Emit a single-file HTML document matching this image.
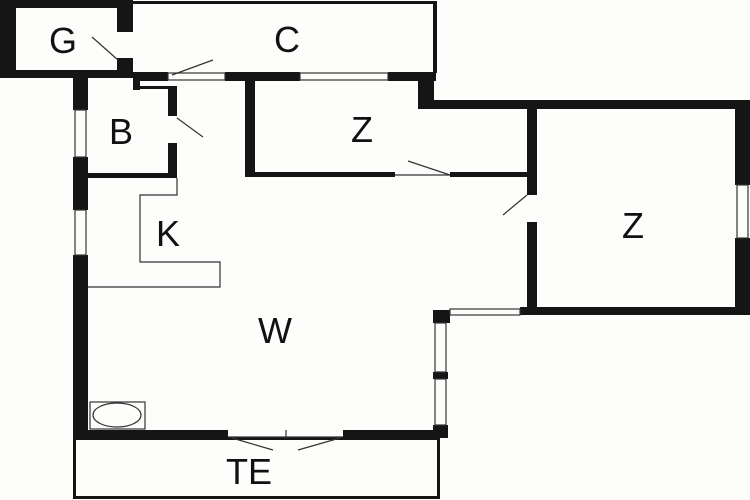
<!DOCTYPE html>
<html><head><style>
html,body{margin:0;padding:0;background:#fdfdfb}
svg{display:block}
text{font-family:"Liberation Sans",sans-serif;font-size:36px;fill:#111;text-anchor:middle}
</style></head><body>
<svg width="750" height="500" viewBox="0 0 750 500">
<rect width="750" height="500" fill="#fdfdfb"/>
<g fill="#151515">
<rect x="0" y="0" width="133" height="8"/>
<rect x="0" y="0" width="16" height="78"/>
<rect x="0" y="70" width="133" height="8"/>
<rect x="117" y="0" width="16" height="32"/>
<rect x="117" y="58" width="16" height="20"/>
<rect x="133" y="1" width="303" height="3"/>
<rect x="433" y="1" width="4" height="72"/>
<rect x="133" y="72" width="35" height="9"/>
<rect x="225" y="72" width="75" height="9"/>
<rect x="388" y="72" width="48" height="9"/>
<rect x="418" y="72" width="16" height="36"/>
<rect x="418" y="100" width="332" height="9"/>
<rect x="73" y="78" width="15" height="32"/>
<rect x="73" y="157" width="15" height="53"/>
<rect x="73" y="255" width="15" height="182"/>
<rect x="133" y="80" width="7" height="10"/>
<rect x="133" y="86" width="44" height="3"/>
<rect x="168" y="86" width="9" height="30"/>
<rect x="168" y="143" width="9" height="35"/>
<rect x="88" y="173" width="89" height="5"/>
<rect x="245" y="80" width="10" height="97"/>
<rect x="245" y="172" width="150" height="5"/>
<rect x="450" y="172" width="80" height="5"/>
<rect x="527" y="100" width="10" height="95"/>
<rect x="527" y="222" width="10" height="93"/>
<rect x="735" y="100" width="15" height="85"/>
<rect x="735" y="238" width="15" height="77"/>
<rect x="520" y="307" width="230" height="8"/>
<rect x="433" y="310" width="17" height="13"/>
<rect x="433" y="372" width="15" height="7"/>
<rect x="433" y="425" width="15" height="12"/>
<rect x="73" y="430" width="155" height="8"/>
<rect x="343" y="430" width="105" height="8"/>
<rect x="73" y="437" width="367" height="3"/>
<rect x="73" y="437" width="3" height="62"/>
<rect x="437" y="437" width="3" height="62"/>
<rect x="73" y="496" width="367" height="3"/>
</g>
<g fill="none" stroke="#333" stroke-width="1.2">
<rect x="168" y="73" width="57" height="7"/>
<rect x="300" y="73" width="88" height="7"/>
<rect x="75" y="110" width="11" height="47"/>
<rect x="75" y="210" width="11" height="45"/>
<rect x="737" y="185" width="11" height="53"/>
<rect x="450" y="309" width="70" height="6"/>
<rect x="435" y="323" width="11" height="49"/>
<rect x="435" y="379" width="11" height="46"/>
<line x1="395" y1="175" x2="450" y2="175"/>
<line x1="228" y1="437" x2="343" y2="437"/>
<line x1="92" y1="37" x2="118" y2="60"/>
<line x1="172" y1="75" x2="213" y2="60"/>
<line x1="177" y1="118" x2="203" y2="137"/>
<line x1="408" y1="161" x2="450" y2="175"/>
<line x1="503" y1="215" x2="527" y2="195"/>
<line x1="232" y1="438" x2="273" y2="450"/>
<line x1="298" y1="450" x2="340" y2="438"/>
<line x1="286" y1="430" x2="286" y2="438"/>
<polyline points="177,178 177,195 140,195 140,262 220,262 220,287 88,287"/>
<rect x="90" y="402" width="55" height="27"/>
<ellipse cx="117" cy="415" rx="24" ry="12"/>
</g>
<text x="63" y="53">G</text>
<text x="287" y="52">C</text>
<text x="121" y="144">B</text>
<text x="362" y="142">Z</text>
<text x="168" y="246">K</text>
<text x="633" y="238">Z</text>
<text x="275" y="343">W</text>
<text x="249" y="484">TE</text>
</svg>
</body></html>
